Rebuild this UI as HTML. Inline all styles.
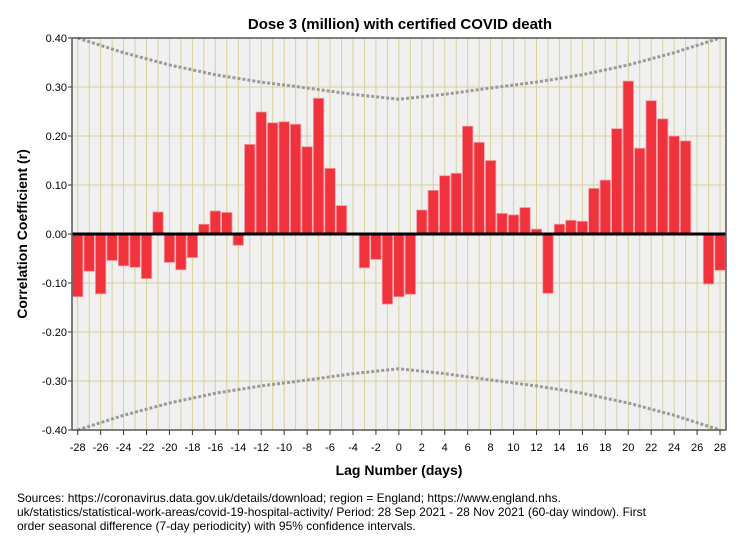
<!DOCTYPE html>
<html><head><meta charset="utf-8"><style>
body{margin:0;background:#fff;font-family:"Liberation Sans",Arial,sans-serif}
svg{display:block}
</style></head><body>
<svg id="chart" width="747" height="541" xmlns="http://www.w3.org/2000/svg" font-family="Liberation Sans, Arial, sans-serif">
<text x="400" y="29" text-anchor="middle" font-size="15" font-weight="bold">Dose 3 (million) with certified COVID death</text>
<rect x="72" y="38" width="654" height="392" fill="#f0f0f0"/>
<g id="grid"></g><g id="ci"></g><g id="bars"></g><g id="axes"></g>
<text transform="translate(27,234) rotate(-90)" text-anchor="middle" font-size="14" font-weight="bold">Correlation Coefficient (r)</text>
<text x="399" y="475" text-anchor="middle" font-size="14" font-weight="bold">Lag Number (days)</text>
<g font-size="12">
<text x="17" y="502">Sources: https://coronavirus.data.gov.uk/details/download; region = England; https://www.england.nhs.</text>
<text x="17" y="516">uk/statistics/statistical-work-areas/covid-19-hospital-activity/ Period: 28 Sep 2021 - 28 Nov 2021 (60-day window). First</text>
<text x="17" y="530">order seasonal difference (7-day periodicity) with 95% confidence intervals.</text>
</g>
</svg>
<script>
const lags = [];
for (let l = -28; l <= 28; l++) lags.push(l);
const acf = [-0.128,-0.076,-0.122,-0.054,-0.065,-0.068,-0.091,0.045,-0.058,-0.073,-0.048,0.020,0.047,0.044,-0.023,0.183,0.249,0.227,0.229,0.224,0.178,0.277,0.134,0.058,0,-0.069,-0.052,-0.143,
-0.128,-0.123,0.049,0.089,0.119,0.124,0.220,0.187,0.150,0.042,0.039,0.054,0.010,-0.121,0.020,0.028,0.026,0.093,0.110,0.215,0.312,0.175,0.272,0.235,0.200,0.190,0,-0.102,-0.074];
const ciLags = [0,4,8,12,16,20,24,28];
const ciVals = [0.275,0.285,0.298,0.31,0.325,0.345,0.37,0.40];
const yTicks = [-0.4,-0.3,-0.2,-0.1,0,0.1,0.2,0.3,0.4];
const xTicks = [-28,-26,-24,-22,-20,-18,-16,-14,-12,-10,-8,-6,-4,-2,0,2,4,6,8,10,12,14,16,18,20,22,24,26,28];

const NS = "http://www.w3.org/2000/svg";
const X = l => 77.7 + (l + 28) * 11.47;
const Y = v => 234 - v * 490;
function mk(tag, attrs, parent, txt) {
  const e = document.createElementNS(NS, tag);
  for (const k in attrs) e.setAttribute(k, attrs[k]);
  if (txt !== undefined) e.textContent = txt;
  document.getElementById(parent).appendChild(e);
  return e;
}
lags.forEach(l => {
  const g = mk('line', {x1: X(l), x2: X(l), y1: 38, y2: 430, stroke: '#d9d09a', 'stroke-width': 1}, 'grid');
  
  
});
yTicks.forEach(v => {
  const g = mk('line', {x1: 72, x2: 726, y1: Y(v), y2: Y(v), stroke: '#d9d09a', 'stroke-width': 1}, 'grid');
  
  
  const t = mk('text', {x: 67, y: Y(v) + 4, 'text-anchor': 'end', 'font-size': 11}, 'axes', v.toFixed(2));
  
  
  mk('line', {x1: 68, x2: 72, y1: Y(v), y2: Y(v), stroke: '#333'}, 'axes');
});
[1, -1].forEach(s => {
  const pts = [];
  for (let i = ciLags.length - 1; i >= 0; i--) pts.push(X(-ciLags[i]) + ',' + Y(s * ciVals[i]));
  for (let i = 1; i < ciLags.length; i++) pts.push(X(ciLags[i]) + ',' + Y(s * ciVals[i]));
  const p = mk('polyline', {points: pts.join(' '), fill: 'none', stroke: '#999', 'stroke-width': 3, 'stroke-dasharray': '3,2'}, 'ci');
  
  
});
lags.forEach((l, i) => {
  const v = acf[i];
  if (v === 0) return;
  const y0 = Math.min(Y(v), Y(0)), h = Math.abs(Y(v) - Y(0));
  const b = mk('rect', {x: X(l) - 5.2, y: y0, width: 10.4, height: h, fill: '#f0323c', stroke: '#f59a9e', 'stroke-width': 0.8}, 'bars');
  
  
});
mk('line', {x1: 72, x2: 726, y1: Y(0), y2: Y(0), stroke: '#000', 'stroke-width': 3}, 'axes');
mk('rect', {x: 72, y: 38, width: 654, height: 392, fill: 'none', stroke: '#555', 'stroke-width': 1.5}, 'axes');
xTicks.forEach(l => {
  mk('line', {x1: X(l), x2: X(l), y1: 430, y2: 435, stroke: '#333'}, 'axes');
  const t = mk('text', {x: X(l), y: 451, 'text-anchor': 'middle', 'font-size': 11}, 'axes', String(l));
  
  
});
</script>
</body></html>
